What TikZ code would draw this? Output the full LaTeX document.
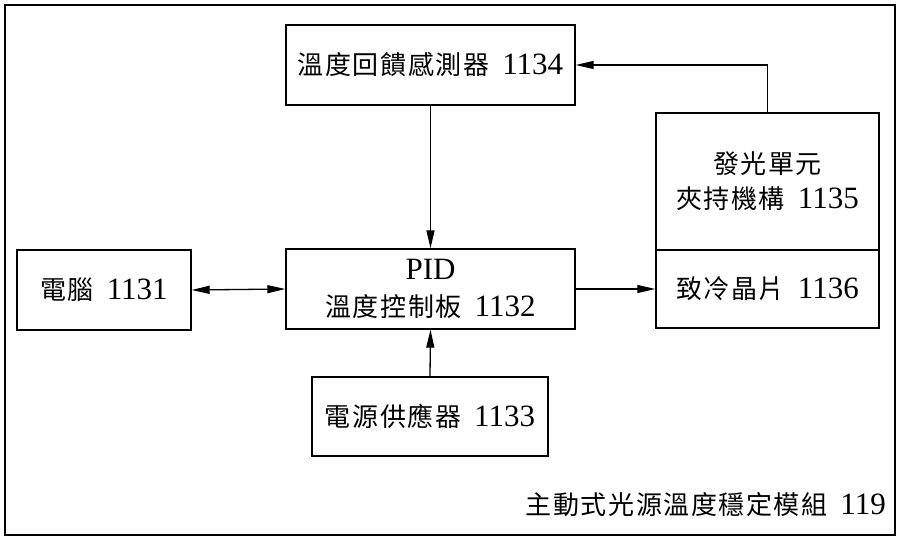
\documentclass[tikz,border=0pt]{standalone}
\usepackage{fontspec}
\setmainfont{Liberation Serif}
\newfontfamily\cjkfont{Noto Sans CJK TC}[LetterSpace=6]
\newcommand\zh[1]{{\fontsize{26}{37}\selectfont\cjkfont #1}}
\usetikzlibrary{arrows.meta}
\begin{document}
\begin{tikzpicture}[x=1pt,y=-1pt,
  box/.style={draw,line width=1.4pt,inner sep=0pt,align=center,font=\fontsize{31}{37}\selectfont},
  arr/.style={line width=1.3pt,-{Triangle[length=18pt,width=8pt]}},
  biarr/.style={line width=1.3pt,{Triangle[length=18pt,width=8pt]}-{Triangle[length=18pt,width=8pt]}}]
\useasboundingbox (0,0) rectangle (900,543);
\draw[line width=1.6pt] (5,5) rectangle (895,535);
\node[box,minimum width=289pt,minimum height=80pt] (sensor) at (430.5,65) {\zh{溫度回饋感測器}\hspace{13pt}1134};
\node[box,minimum width=289pt,minimum height=80pt] (pid) at (430.5,289) {PID\\\zh{溫度控制板}\hspace{13pt}1132};
\node[box,minimum width=174pt,minimum height=80pt] (pc) at (104,290) {\zh{電腦}\hspace{13pt}1131};
\node[box,minimum width=236pt,minimum height=79pt] (power) at (430,416.5) {\zh{電源供應器}\hspace{13pt}1133};
\node[box,minimum width=223pt,minimum height=137pt,font=\fontsize{31}{35}\selectfont] (clamp) at (767.5,181.5) {\zh{發光單元}\\\zh{夾持機構}\hspace{13pt}1135};
\node[box,minimum width=223pt,minimum height=78pt] (tec) at (767.5,289) {\zh{致冷晶片}\hspace{13pt}1136};
\node[anchor=east,inner sep=0pt,font=\fontsize{31}{37}\selectfont] (title) at (886,505) {\zh{主動式光源溫度穩定模組}\hspace{13pt}119};
\draw[arr] (sensor.south) -- (pid.north);
\draw[arr] (power.north) -- (pid.south);
\draw[biarr] (pc.east) -- (pid.west);
\draw[arr] (pid.east) -- (tec.west);
\draw[arr] (clamp.north) |- (sensor.east);
\end{tikzpicture}
\end{document}
